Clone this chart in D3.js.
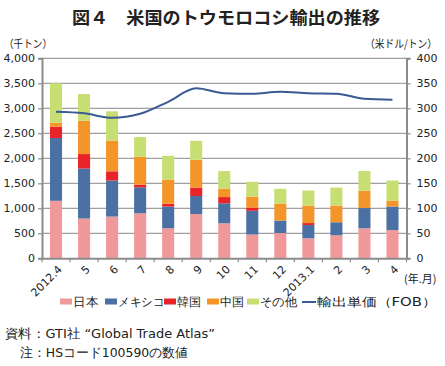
<!DOCTYPE html>
<html><head><meta charset="utf-8">
<script src="https://cdn.jsdelivr.net/npm/d3@7"></script>
<style>
body{margin:0;background:#fff;}
svg text{font-family:"DejaVu Sans",Verdana,sans-serif;}
</style></head>
<body><svg id="c" width="445" height="366"></svg>
<script>
const categories = ["2012.4","5","6","7","8","9","10","11","12","2013.1","2","3","4"];
const japan  = [1150, 795, 835, 900, 600, 885, 700, 475, 505, 400, 460, 600, 565];
const mexico = [1255, 1000, 720, 520, 435, 360, 400, 475, 250, 265, 260, 405, 470];
const korea  = [225, 290, 185, 55, 55, 170, 125, 65, 0, 40, 0, 0, 0];
const china  = [80, 665, 615, 555, 485, 555, 165, 220, 340, 350, 335, 345, 120];
const other  = [790, 535, 585, 395, 475, 380, 355, 295, 295, 300, 360, 395, 400];
const price  = [293, 290, 281, 289, 313, 340, 330, 329, 333, 330, 329, 319, 317];
const seriesNames = ["日本","メキシコ","韓国","中国","その他"];
const colors = ["#f0999b","#4a70a4","#e8232a","#f4952a","#c7de72"];
const lineName = "輸出単価（FOB）";
const leftTicks = [0,500,1000,1500,2000,2500,3000,3500,4000];
const rightTicks = [0,50,100,150,200,250,300,350,400];

const svg = d3.select("#c");
const L=42, R=406.5, T=58.3, B=258.3;
const x = d3.scaleBand().domain(categories).range([L,R]).paddingInner(0.57).paddingOuter(0.285);
const xb = d3.scaleBand().domain(categories).range([L,R]);
const y = d3.scaleLinear().domain([0,4000]).range([B,T]);
const y2 = d3.scaleLinear().domain([0,400]).range([B,T]);
const JP = "'Noto Sans CJK JP',sans-serif";

// title
svg.append("text").attr("x",72).attr("y",24)
  .style("font-family",JP).style("font-weight","bold").style("font-size","17.5px").attr("fill","#222")
  .attr("textLength",308).attr("lengthAdjust","spacingAndGlyphs")
  .text("図４　米国のトウモロコシ輸出の推移");
svg.append("text").attr("x",4).attr("y",48).style("font-family",JP).style("font-size","11px").attr("fill","#222")
  .attr("textLength",48).attr("lengthAdjust","spacingAndGlyphs").text("（千トン）");
svg.append("text").attr("x",365).attr("y",48).style("font-family",JP).style("font-size","11px").attr("fill","#222")
  .attr("textLength",72).attr("lengthAdjust","spacingAndGlyphs").text("（米ドル/トン）");

// gridlines
svg.append("g").selectAll("line").data(leftTicks.slice(1)).join("line")
  .attr("x1",L).attr("x2",R).attr("y1",d=>y(d)).attr("y2",d=>y(d))
  .attr("stroke","#a0a0a0").attr("stroke-width",1.2);

// bars
const rows = categories.map((c,i)=>({cat:c, v:[japan[i],mexico[i],korea[i],china[i],other[i]]}));
const stack = d3.stack().keys([0,1,2,3,4]).value((d,k)=>d.v[k]);
const layers = stack(rows);
svg.append("g").selectAll("g").data(layers).join("g").attr("fill",(d,i)=>colors[i])
  .selectAll("rect").data(d=>d).join("rect")
  .attr("x",d=>x(d.data.cat)).attr("width",x.bandwidth())
  .attr("y",d=>y(d[1])).attr("height",d=>y(d[0])-y(d[1]));

// line
const line = d3.line().x((d,i)=>xb(categories[i])+xb.bandwidth()/2).y(d=>y2(d)).curve(d3.curveMonotoneX);
svg.append("path").datum(price).attr("d",line).attr("fill","none").attr("stroke","#3a5a94").attr("stroke-width",2);

// axes
const axisCol="#8c8c8c";
const gl = svg.append("g").attr("transform",`translate(${L},0)`).call(d3.axisLeft(y).tickValues(leftTicks).tickFormat(d3.format(",")).tickSize(4).tickPadding(3));
const gr = svg.append("g").attr("transform",`translate(${R},0)`).call(d3.axisRight(y2).tickValues(rightTicks).tickSize(4).tickPadding(6));
const gb = svg.append("g").attr("transform",`translate(0,${B})`).call(d3.axisBottom(xb).tickSize(0).tickFormat(""));
[gl,gr,gb].forEach(g=>{
  g.select(".domain").attr("stroke",axisCol).attr("stroke-width",2);
  g.selectAll(".tick line").attr("stroke",axisCol).attr("stroke-width",1.2);
  g.selectAll("text").style("font-size","11px").attr("fill","#222");
});
// x tick marks at band boundaries
svg.append("g").selectAll("line").data(categories.concat(["_end"])).join("line")
  .attr("x1",(d,i)=>L+xb.step()*i).attr("x2",(d,i)=>L+xb.step()*i)
  .attr("y1",B).attr("y2",B+4).attr("stroke",axisCol).attr("stroke-width",1.2);
// x labels rotated
svg.append("g").selectAll("text").data(categories).join("text")
  .attr("transform",d=>`translate(${xb(d)+xb.bandwidth()/2+4},${B+9}) rotate(-45)`)
  .attr("text-anchor","end").attr("dy","0.35em").style("font-size","11px").attr("fill","#222").text(d=>d);
svg.append("text").attr("x",404).attr("y",283).style("font-family",JP).style("font-size","11px").attr("fill","#222")
  .text("(年.月)");

// legend
const lg = svg.append("g").style("font-family",JP).style("font-size","12px");
const items = [
  {n:seriesNames[0],c:colors[0],x:60,w:25},
  {n:seriesNames[1],c:colors[1],x:105,w:46},
  {n:seriesNames[2],c:colors[2],x:164,w:24},
  {n:seriesNames[3],c:colors[3],x:207,w:24},
  {n:seriesNames[4],c:colors[4],x:247,w:37},
];
items.forEach(it=>{
  lg.append("rect").attr("x",it.x).attr("y",298.5).attr("width",12).attr("height",6).attr("fill",it.c);
  lg.append("text").attr("x",it.x+13).attr("y",306).attr("fill","#222")
    .attr("textLength",it.w).attr("lengthAdjust","spacingAndGlyphs").text(it.n);
});
lg.append("line").attr("x1",302).attr("x2",316).attr("y1",302).attr("y2",302).attr("stroke","#3a5a94").attr("stroke-width",2);
lg.append("text").attr("x",317).attr("y",306).attr("fill","#222")
  .attr("textLength",120).attr("lengthAdjust","spacingAndGlyphs").text(lineName);

// footer
const ft = svg.append("g").style("font-family",JP).style("font-size","12.5px").attr("fill","#222");
ft.append("text").attr("x",5).attr("y",338).attr("textLength",210).attr("lengthAdjust","spacingAndGlyphs").text("資料：GTI社 “Global Trade Atlas”");
ft.append("text").attr("x",20).attr("y",357).attr("textLength",168).attr("lengthAdjust","spacingAndGlyphs").text("注：HSコード100590の数値");
</script></body></html>
